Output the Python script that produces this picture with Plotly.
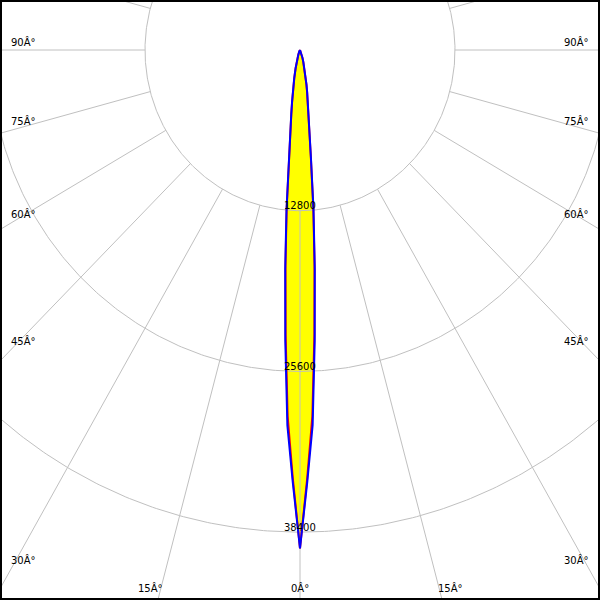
import numpy as np
import plotly.graph_objects as go

# ---- data ----
angles_deg = [0, 1, 2, 3, 4, 5, 6, 7, 8, 9, 10, 11, 12, 14, 16, 18, 20, 25, 30, 40, 50, 60, 70, 80, 90]
c0_c180_cd = [39700, 34400, 29900, 23200, 17500, 12800, 8650, 6500, 5200, 4200, 3400,
              2800, 2300, 1500, 1000, 650, 420, 150, 60, 20, 5, 0, 0, 0, 0]
c90_c270_cd = [39700, 34100, 29200, 22700, 17200, 12600, 8550, 6400, 5150, 4150, 3350,
               2750, 2250, 1480, 980, 640, 410, 150, 60, 20, 5, 0, 0, 0, 0]
ring_values = [12800, 25600, 38400, 51200]
ring_labels = ["12800", "25600", "38400"]
spoke_angles = [0, 15, 30, 45, 60, 75, 90, 105, 120, 135, 150, 165, 180]
side_label_angles = [90, 75, 60, 45, 30]
side_label_texts = ["90Â°", "75Â°", "60Â°", "45Â°", "30Â°"]
bottom_label_angles = [15, 0]
bottom_label_texts = ["15Â°", "0Â°"]

# ---- geometry of the view (pixels) ----
W = H = 600
CX, CY = 300.0, 50.0              # pixel position of the polar centre
PX = 155.0 / 12800.0              # horizontal pixels per cd
PY = 160.7 / 12800.0              # vertical pixels per cd
M = 2                             # frame width
GRID = "#c0c0c0"
FONT = dict(family="DejaVu Sans", size=10, color="black")
SIDE_LABEL_Y = [42, 121, 214, 341, 560]   # label centres (px) along the side frame
BOTTOM_LABEL_DX = [150, 0]                # label centre offset from centre (px) at the bottom
BOTTOM_LABEL_Y = 588


def polar_xy(theta_deg, r):
    t = np.radians(np.asarray(theta_deg, dtype=float))
    r = np.asarray(r, dtype=float)
    return r * np.sin(t), -r * np.cos(t)


def half_curve(vals):
    a = np.array(angles_deg, dtype=float)
    v = np.array(vals, dtype=float)
    th = np.concatenate([-a[::-1], a[1:]])
    rr = np.concatenate([v[::-1], v[1:]])
    return polar_xy(th, rr)


fig = go.Figure()

fx, fy = half_curve(c0_c180_cd)
fig.add_trace(go.Scatter(x=fx, y=fy, mode="lines", fill="toself", fillcolor="#ffff00",
                         line=dict(width=0, color="#ffff00"), hoverinfo="skip", showlegend=False))

tt = np.linspace(0, 360, 721)
for rv in ring_values:
    gx, gy = polar_xy(tt, np.full_like(tt, rv))
    fig.add_trace(go.Scatter(x=gx, y=gy, mode="lines", line=dict(color=GRID, width=1),
                             hoverinfo="skip", showlegend=False))

for a in spoke_angles:
    for s in ([1, -1] if a not in (0, 180) else [1]):
        sx, sy = polar_xy([s * a, s * a], [ring_values[0], 70000])
        fig.add_trace(go.Scatter(x=sx, y=sy, mode="lines", line=dict(color=GRID, width=1),
                                 hoverinfo="skip", showlegend=False))

rx, ry = half_curve(c90_c270_cd)
fig.add_trace(go.Scatter(x=rx, y=ry, mode="lines", line=dict(color="#ff0000", width=2),
                         hoverinfo="skip", showlegend=False))
bx, by = half_curve(c0_c180_cd)
fig.add_trace(go.Scatter(x=bx, y=by, mode="lines", line=dict(color="#0000ff", width=2),
                         hoverinfo="skip", showlegend=False))

annotations = []
for rv, txt in zip(ring_values, ring_labels):
    annotations.append(dict(x=0, y=-rv, xref="x", yref="y", text=txt, showarrow=False,
                            xanchor="center", yanchor="middle", yshift=5, font=FONT))


def paper(px, py):
    return (px - M) / (W - 2 * M), (H - M - py) / (H - 2 * M)


for txt, py in zip(side_label_texts, SIDE_LABEL_Y):
    for px, xa in ((9, "left"), (W - 9, "right")):
        xp, yp = paper(px, py)
        annotations.append(dict(x=xp, y=yp, xref="paper", yref="paper", text=txt,
                                showarrow=False, xanchor=xa, yanchor="middle", font=FONT))

for a, txt, dx in zip(bottom_label_angles, bottom_label_texts, BOTTOM_LABEL_DX):
    for s in ([1, -1] if a != 0 else [1]):
        xp, yp = paper(CX + s * dx, BOTTOM_LABEL_Y)
        annotations.append(dict(x=xp, y=yp, xref="paper", yref="paper", text=txt,
                                showarrow=False, xanchor="center", yanchor="middle", font=FONT))

fig.update_layout(
    width=W, height=H,
    margin=dict(l=M, r=M, t=M, b=M, pad=0, autoexpand=False),
    paper_bgcolor="white", plot_bgcolor="white",
    xaxis=dict(range=[(M - CX) / PX, (W - M - CX) / PX], showgrid=False,
               zeroline=False, showticklabels=False, ticks="", showline=True, mirror=True,
               linecolor="black", linewidth=2, fixedrange=True),
    yaxis=dict(range=[-(H - M - CY) / PY, (CY - M) / PY], showgrid=False,
               zeroline=False, showticklabels=False, ticks="", showline=True, mirror=True,
               linecolor="black", linewidth=2, fixedrange=True),
    annotations=annotations,
    showlegend=False,
)

fig.write_html("out.html", config={"displayModeBar": False},
               post_script="document.body.style.margin='0';document.body.style.padding='0';"
                           "document.documentElement.style.overflow='hidden';")
